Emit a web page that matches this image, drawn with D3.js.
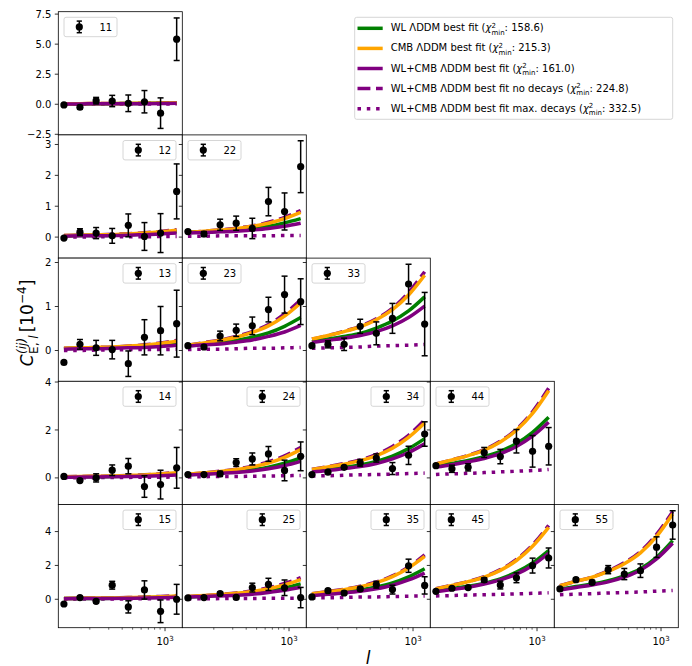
<!DOCTYPE html>
<html><head><meta charset="utf-8">
<script src="https://cdn.jsdelivr.net/npm/d3@7"></script>
<style>
body{margin:0;background:#fff}
svg{display:block}
text{font-family:"DejaVu Sans",sans-serif;white-space:pre}
</style>
</head><body><svg id="c" width="692" height="666"></svg>
<script>
// ---------------- data ----------------
const ell = [115, 162, 229, 323, 456, 644, 909, 1283];
const pairLabels = ["11","12","22","13","23","33","14","24","34","44","15","25","35","45","55"];
const legendCorner = ["left","right","left","right","left","left","right","right","right","left","right","right","right","left","left"];

const pointValues = [
  [-0.06,-0.25,0.30,0.27,0.08,0.21,-0.74,5.41],
  [-0.03,0.16,0.13,0.04,0.38,0.02,0.13,1.48],
  [0.18,0.10,0.40,0.45,0.28,1.15,0.83,2.28],
  [-0.27,0.14,0.06,0.02,-0.30,0.30,0.45,0.61],
  [0.11,0.08,0.33,0.46,0.56,0.93,1.27,1.11],
  [0.11,0.14,0.14,0.55,0.39,0.73,1.51,0.60],
  [0.06,-0.11,0.00,0.32,0.49,-0.36,-0.28,0.42],
  [0.14,0.14,0.17,0.64,0.79,1.00,0.31,0.90],
  [0.14,0.24,0.44,0.63,0.83,0.39,0.94,1.83],
  [0.51,0.38,0.44,1.06,0.89,1.53,1.11,1.32],
  [-0.28,0.10,-0.12,0.83,-0.45,0.55,-0.71,0.00],
  [0.08,0.10,0.34,0.11,0.69,0.88,0.68,0.10],
  [0.14,0.51,0.37,0.61,0.86,0.57,1.98,0.82],
  [0.47,0.65,0.69,1.14,0.84,1.27,1.99,2.44],
  [0.61,1.16,1.00,1.75,1.49,1.69,3.08,4.39]
];
const pointErrors = [
  [0.10,0.15,0.27,0.47,0.69,0.93,1.27,1.77],
  [0.04,0.11,0.18,0.24,0.37,0.45,0.63,0.89],
  [0.04,0.08,0.18,0.23,0.33,0.46,0.60,0.84],
  [0.03,0.11,0.17,0.21,0.29,0.40,0.55,0.76],
  [0.03,0.04,0.11,0.14,0.20,0.28,0.42,0.52],
  [0.03,0.08,0.14,0.16,0.26,0.34,0.45,0.72],
  [0.04,0.06,0.17,0.22,0.32,0.45,0.60,0.85],
  [0.05,0.05,0.11,0.16,0.25,0.31,0.43,0.60],
  [0.05,0.05,0.07,0.14,0.17,0.25,0.38,0.51],
  [0.06,0.15,0.15,0.21,0.30,0.49,0.66,0.78],
  [0.05,0.07,0.10,0.23,0.36,0.54,0.67,0.88],
  [0.05,0.07,0.10,0.10,0.26,0.36,0.46,0.60],
  [0.05,0.08,0.10,0.10,0.20,0.26,0.39,0.51],
  [0.05,0.08,0.10,0.13,0.23,0.29,0.44,0.59],
  [0.07,0.10,0.12,0.24,0.33,0.40,0.61,0.84]
];
const wlFit = [
  [0.04,0.04,0.05,0.05,0.06,0.07,0.08,0.10],
  [0.04,0.05,0.05,0.06,0.08,0.10,0.13,0.17],
  [0.14,0.17,0.19,0.23,0.28,0.35,0.46,0.60],
  [0.04,0.05,0.05,0.06,0.08,0.10,0.12,0.16],
  [0.11,0.15,0.18,0.23,0.30,0.40,0.55,0.75],
  [0.20,0.26,0.32,0.39,0.51,0.67,0.90,1.22],
  [0.04,0.05,0.05,0.06,0.08,0.10,0.12,0.16],
  [0.13,0.17,0.21,0.26,0.34,0.45,0.61,0.83],
  [0.28,0.36,0.44,0.54,0.69,0.91,1.22,1.64],
  [0.50,0.61,0.73,0.89,1.11,1.43,1.90,2.53],
  [0.04,0.05,0.05,0.06,0.08,0.10,0.12,0.16],
  [0.14,0.18,0.23,0.29,0.37,0.49,0.67,0.91],
  [0.25,0.34,0.43,0.55,0.72,0.96,1.32,1.80],
  [0.50,0.63,0.77,0.95,1.21,1.60,2.14,2.88],
  [0.60,0.75,0.90,1.10,1.38,1.80,2.48,3.47]
];
const cmbFit = [
  [0.05,0.05,0.06,0.06,0.07,0.08,0.10,0.12],
  [0.05,0.06,0.07,0.08,0.10,0.13,0.17,0.22],
  [0.15,0.19,0.23,0.27,0.35,0.45,0.60,0.80],
  [0.05,0.06,0.07,0.08,0.10,0.12,0.16,0.21],
  [0.12,0.17,0.23,0.30,0.41,0.56,0.78,1.08],
  [0.26,0.34,0.43,0.54,0.70,0.93,1.26,1.71],
  [0.05,0.06,0.07,0.08,0.10,0.12,0.16,0.21],
  [0.15,0.21,0.27,0.35,0.46,0.62,0.86,1.18],
  [0.35,0.46,0.57,0.72,0.93,1.24,1.69,2.29],
  [0.58,0.75,0.93,1.16,1.50,1.99,2.69,3.64],
  [0.05,0.06,0.07,0.08,0.10,0.12,0.15,0.20],
  [0.16,0.22,0.28,0.35,0.46,0.62,0.85,1.16],
  [0.32,0.44,0.57,0.74,0.98,1.34,1.85,2.53],
  [0.62,0.82,1.04,1.31,1.71,2.29,3.13,4.25],
  [0.80,1.06,1.30,1.65,2.10,2.74,3.71,5.04]
];
const jointFit = [
  [0.03,0.03,0.04,0.04,0.05,0.05,0.06,0.08],
  [0.03,0.04,0.04,0.05,0.06,0.08,0.10,0.13],
  [0.13,0.15,0.17,0.19,0.23,0.28,0.35,0.45],
  [0.03,0.04,0.04,0.05,0.06,0.07,0.09,0.12],
  [0.10,0.13,0.15,0.19,0.24,0.32,0.42,0.57],
  [0.18,0.23,0.28,0.34,0.43,0.56,0.75,1.01],
  [0.03,0.04,0.04,0.05,0.06,0.07,0.09,0.12],
  [0.12,0.15,0.19,0.23,0.29,0.38,0.51,0.69],
  [0.25,0.31,0.39,0.47,0.60,0.79,1.06,1.42],
  [0.45,0.55,0.67,0.81,1.01,1.31,1.74,2.32],
  [0.03,0.04,0.04,0.05,0.06,0.07,0.09,0.12],
  [0.13,0.16,0.20,0.24,0.30,0.40,0.53,0.71],
  [0.22,0.29,0.37,0.47,0.62,0.83,1.14,1.55],
  [0.45,0.58,0.71,0.90,1.15,1.49,2.00,2.72],
  [0.55,0.70,0.84,1.03,1.31,1.72,2.38,3.31]
];
const noDecayFit = [
  [0.05,0.05,0.06,0.07,0.07,0.09,0.11,0.13],
  [0.05,0.06,0.07,0.09,0.11,0.14,0.18,0.24],
  [0.15,0.19,0.23,0.29,0.36,0.48,0.64,0.86],
  [0.05,0.06,0.07,0.08,0.10,0.13,0.17,0.23],
  [0.12,0.18,0.24,0.32,0.43,0.59,0.83,1.15],
  [0.26,0.34,0.44,0.55,0.72,0.96,1.32,1.79],
  [0.05,0.06,0.07,0.08,0.10,0.13,0.17,0.23],
  [0.15,0.21,0.28,0.36,0.49,0.67,0.92,1.27],
  [0.36,0.47,0.60,0.75,0.98,1.31,1.78,2.42],
  [0.58,0.75,0.94,1.18,1.53,2.03,2.76,3.74],
  [0.05,0.06,0.07,0.08,0.10,0.13,0.17,0.22],
  [0.16,0.22,0.29,0.37,0.50,0.68,0.93,1.28],
  [0.33,0.46,0.59,0.77,1.02,1.38,1.91,2.62],
  [0.62,0.83,1.05,1.33,1.75,2.35,3.21,4.37],
  [0.80,1.06,1.31,1.68,2.16,2.82,3.83,5.18]
];
const maxDecayFit = [
  [0.01,0.01,0.02,0.02,0.02,0.02,0.03,0.03],
  [0.00,0.00,0.01,0.01,0.01,0.01,0.02,0.02],
  [0.03,0.03,0.04,0.04,0.04,0.04,0.05,0.05],
  [0.00,0.00,0.01,0.01,0.02,0.02,0.02,0.03],
  [0.02,0.03,0.03,0.04,0.05,0.05,0.06,0.07],
  [0.05,0.06,0.07,0.08,0.10,0.11,0.12,0.14],
  [0.00,0.01,0.01,0.02,0.02,0.03,0.03,0.04],
  [0.04,0.05,0.06,0.06,0.07,0.08,0.09,0.10],
  [0.08,0.09,0.11,0.13,0.14,0.16,0.18,0.20],
  [0.14,0.17,0.19,0.22,0.25,0.28,0.31,0.35],
  [0.00,0.01,0.01,0.02,0.02,0.03,0.03,0.04],
  [0.03,0.03,0.04,0.05,0.05,0.06,0.06,0.07],
  [0.08,0.09,0.11,0.13,0.14,0.16,0.18,0.20],
  [0.20,0.22,0.25,0.27,0.29,0.32,0.35,0.38],
  [0.27,0.30,0.33,0.37,0.40,0.43,0.48,0.52]
];
const rowDomains = [[-2.55,7.7],[-0.68,3.31],[-0.70,2.10],[-1.11,4.03],[-1.68,5.6]];
const rowTicks = [[-2.5,0,2.5,5,7.5],[0,1,2,3],[0,1,2],[0,2,4],[0,2,4]];
const rowTickFormat = [".1f","d","d","d","d"];
const seriesNames = ["WL ΛDDM best fit","CMB ΛDDM best fit","WL+CMB ΛDDM best fit","WL+CMB ΛDDM best fit no decays","WL+CMB ΛDDM best fit max. decays"];
const seriesChi2 = ["158.6","215.3","161.0","224.8","332.5"];

// ---------------- layout / styles ----------------
const svg = d3.select("#c");
const L0 = 58.3, T0 = 11.7, PW = 124, PH = 123.2;
const LW = 3.5;
const styles = [
  {c:"#008000", dash:null},
  {c:"#ffa500", dash:null},
  {c:"#800080", dash:null},
  {c:"#800080", dash:"12.9,5.6"},
  {c:"#800080", dash:"3.5,5.8"}
];
const fits = [wlFit, cmbFit, jointFit, noDecayFit, maxDecayFit];
const drawOrder = [4, 3, 0, 1, 2];

// x scale (log, matplotlib-like 5% margins)
const lgLo = Math.log10(d3.min(ell)), lgHi = Math.log10(d3.max(ell));
const mg = 0.05*(lgHi-lgLo);
const x = d3.scaleLog().domain([Math.pow(10, lgLo-mg), Math.pow(10, lgHi+mg)]).range([0, PW]);
const minorTicks = [200,300,400,500,600,700,800,900];

pairLabels.forEach((lab, k) => {
  const col = +lab[0]-1, row = +lab[1]-1;
  const px = L0 + col*PW, py = T0 + row*PH;
  const y = d3.scaleLinear().domain(rowDomains[row]).range([PH, 0]);
  const g = svg.append("g").attr("transform", `translate(${px},${py})`);
  g.append("rect").attr("width", PW).attr("height", PH).attr("fill", "#fff");

  // y ticks
  rowTicks[row].forEach(t => {
    g.append("line").attr("x1", -3.5).attr("x2", 0).attr("y1", y(t)).attr("y2", y(t))
      .attr("stroke", "#000").attr("stroke-width", 0.8);
    if (col === 0) {
      g.append("text").attr("x", -7).attr("y", y(t)).attr("dy", "0.36em")
        .attr("text-anchor", "end").attr("font-size", 10)
        .text(d3.format(rowTickFormat[row])(t));
    }
  });
  // x ticks (only bottom row visible)
  if (row === 4) {
    minorTicks.forEach(t => {
      g.append("line").attr("x1", x(t)).attr("x2", x(t)).attr("y1", PH).attr("y2", PH+2)
        .attr("stroke", "#000").attr("stroke-width", 0.6);
    });
    g.append("line").attr("x1", x(1000)).attr("x2", x(1000)).attr("y1", PH).attr("y2", PH+3.5)
      .attr("stroke", "#000").attr("stroke-width", 0.8);
    const tl = g.append("text").attr("y", PH+17.3).attr("font-size", 10);
    tl.append("tspan").text("10");
    tl.append("tspan").attr("font-size", 7).attr("dy", -4.5).text("3");
    const w = tl.node().getComputedTextLength();
    tl.attr("x", x(1000) - w/2);
  }

  // curves
  const line = d3.line().x((d,i) => x(ell[i])).y(d => y(d)).curve(d3.curveMonotoneX);
  drawOrder.forEach(s => {
    g.append("path").attr("d", line(fits[s][k])).attr("fill", "none")
      .attr("stroke", styles[s].c).attr("stroke-width", LW)
      .attr("stroke-dasharray", styles[s].dash);
  });

  // data points with error bars
  const vals = pointValues[k], errs = pointErrors[k];
  vals.forEach((v, i) => {
    const cx = x(ell[i]);
    const y1 = y(v - errs[i]), y2 = y(v + errs[i]);
    g.append("line").attr("x1", cx).attr("x2", cx).attr("y1", y1).attr("y2", y2)
      .attr("stroke", "#000").attr("stroke-width", 1.5);
    [y1, y2].forEach(yy => g.append("line").attr("x1", cx-3).attr("x2", cx+3)
      .attr("y1", yy).attr("y2", yy).attr("stroke", "#000").attr("stroke-width", 1.5));
    g.append("circle").attr("cx", cx).attr("cy", y(v)).attr("r", 3.6).attr("fill", "#000");
  });

  // spines
  g.append("rect").attr("width", PW).attr("height", PH).attr("fill", "none")
    .attr("stroke", "#000").attr("stroke-width", 0.8);

  // panel legend
  const bw = 53, bh = 19.4;
  const bx = legendCorner[k] === "left" ? 5.7 : PW - 6.3 - bw, by = 5.6;
  const lg = g.append("g").attr("transform", `translate(${bx},${by})`);
  lg.append("rect").attr("width", bw).attr("height", bh).attr("rx", 2)
    .attr("fill", "#fff").attr("fill-opacity", 0.8).attr("stroke", "#cccccc").attr("stroke-width", 0.8);
  const hx = 15.3, hy = 9.6;
  lg.append("line").attr("x1", hx).attr("x2", hx).attr("y1", hy-5.8).attr("y2", hy+5.8)
    .attr("stroke", "#000").attr("stroke-width", 1.5);
  [hy-5.8, hy+5.8].forEach(yy => lg.append("line").attr("x1", hx-2.6).attr("x2", hx+2.6)
    .attr("y1", yy).attr("y2", yy).attr("stroke", "#000").attr("stroke-width", 1.5));
  lg.append("circle").attr("cx", hx).attr("cy", hy).attr("r", 3.6).attr("fill", "#000");
  lg.append("text").attr("x", 35.5).attr("y", 13.4).attr("font-size", 10).text(lab);
});

// ---------------- main legend ----------------
const ML = svg.append("g");
ML.append("rect").attr("x", 354.7).attr("y", 17.3).attr("width", 318).attr("height", 102).attr("rx", 2)
  .attr("fill", "#fff").attr("fill-opacity", 0.8).attr("stroke", "#cccccc").attr("stroke-width", 0.8);
function addText(g, x0, y0, str, size, italic) {
  const t = g.append("text").attr("x", x0).attr("y", y0).attr("font-size", size)
    .attr("font-style", italic ? "italic" : "normal").text(str);
  return t.node().getComputedTextLength();
}
seriesNames.forEach((name, i) => {
  const cy = 28.3 + 20.1*i;
  ML.append("line").attr("x1", 357.5).attr("x2", 382.7).attr("y1", cy).attr("y2", cy)
    .attr("stroke", styles[i].c).attr("stroke-width", LW).attr("stroke-dasharray", styles[i].dash);
  const base = cy + 3;
  let cx = 390.7;
  cx += addText(ML, cx, base, name + " (", 10, false);
  cx += addText(ML, cx, base, "χ", 10, true);
  const w1 = addText(ML, cx, base - 3.4, "2", 7, false);
  const w2 = addText(ML, cx, base + 3.4, "min", 7, false);
  cx += Math.max(w1, w2);
  addText(ML, cx, base, ": " + seriesChi2[i] + ")", 10, false);
});

// ---------------- axis labels ----------------
const xl = svg.append("text").attr("x", 368).attr("y", 663.5).attr("font-size", 17)
  .attr("font-style", "italic").attr("text-anchor", "middle").text("l");

const yg = svg.append("g");
const yi = yg.append("g");
let p = 0;
p += addText(yi, p, 0, "C", 17, true);
const sw1 = addText(yi, p + 0.5, -7.5, "(ij)", 12, true);
let sp = p + 0.5;
sp += addText(yi, sp, 4.5, "E, ", 12, false);
sp += addText(yi, sp, 4.5, "l", 12, true);
p = Math.max(p + 0.5 + sw1, sp) + 3;
p += addText(yi, p, 0, "[10", 17, false);
p += addText(yi, p, -7.5, "−4", 12, false);
p += addText(yi, p, 0, "]", 17, false);
yi.attr("transform", `translate(${-p/2},0)`);
yg.attr("transform", "translate(33,323) rotate(-90)");
</script>
</body></html>
